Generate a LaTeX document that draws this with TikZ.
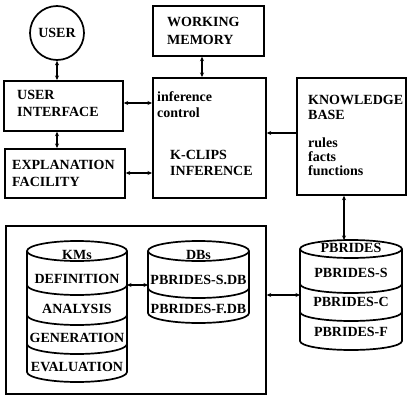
\documentclass[tikz,border=0pt]{standalone}
\usepackage{fontspec}
\setmainfont{Liberation Serif}
\usetikzlibrary{arrows.meta}
\begin{document}
\begin{tikzpicture}[x=1pt,y=1pt,
  box/.style={draw, line width=1.7pt, rectangle, inner sep=0pt, anchor=north west},
  txt/.style={inner sep=0pt, font=\fontsize{14}{16}\selectfont\bfseries, text height=9.5pt, text depth=0pt},
  lt/.style={txt, anchor=west},
  ct/.style={txt, anchor=center},
  cyl/.style={line width=1.7pt},
  tip/.tip={Stealth[length=4.5pt,width=4pt]},
  conn/.style={line width=1.1pt, tip-tip},
  conn1/.style={line width=1.1pt, -tip}]
\useasboundingbox (0,0) rectangle (407,400);

% boxes
\node[draw, circle, line width=1.7pt, minimum size=54pt, inner sep=0pt, font=\fontsize{14}{16}\selectfont\bfseries] (user) at (57,367) {USER};
\node[box, minimum width=111pt, minimum height=50pt] (wm) at (152,395) {};
\node[box, minimum width=119pt, minimum height=50pt] (ui) at (3,320) {};
\node[box, minimum width=113pt, minimum height=120pt] (inf) at (152,323) {};
\node[box, minimum width=109pt, minimum height=117pt] (kb) at (296,323) {};
\node[box, minimum width=120pt, minimum height=49pt] (ex) at (4,252) {};
\node[box, minimum width=260pt, minimum height=168pt] (big) at (5,175) {};

% box texts
\node[lt] (wm1) at (167,378) {WORKING};
\node[lt] (wm2) at (167,360) {MEMORY};
\node[lt] (ui1) at (17,305) {USER};
\node[lt] (ui2) at (17,288) {INTERFACE};
\node[lt] (ex1) at (12,235) {EXPLANATION};
\node[lt] (ex2) at (12,218) {FACILITY};
\node[lt] (in1) at (157,303) {inference};
\node[lt] (in2) at (157,287) {control};
\node[lt] (in3) at (170,245) {K-CLIPS};
\node[lt] (in4) at (170,229) {INFERENCE};
\node[lt] (kb1) at (308,300) {KNOWLEDGE};
\node[lt] (kb2) at (308,285) {BASE};
\node[lt] (kb3) at (308,257) {rules};
\node[lt] (kb4) at (308,243) {facts};
\node[lt] (kb5) at (308,229) {functions};

% KMs cylinder
\draw[cyl] (27,149) -- (27,28) arc[start angle=180,end angle=360,x radius=50,y radius=10] -- (127,149);
\draw[cyl] (77,149) ellipse[x radius=50,y radius=10];
\draw[cyl] (27,115) arc[start angle=180,end angle=360,x radius=50,y radius=10];
\draw[cyl] (27,85) arc[start angle=180,end angle=360,x radius=50,y radius=10];
\draw[cyl] (27,56) arc[start angle=180,end angle=360,x radius=50,y radius=10];
\node[ct] (km0) at (77,145) {KMs};
\node[ct] (km1) at (77,121) {DEFINITION};
\node[ct] (km2) at (77,91) {ANALYSIS};
\node[ct] (km3) at (77,62) {GENERATION};
\node[ct] (km4) at (77,33) {EVALUATION};
\coordinate (kmr) at (127,115);

% DBs cylinder
\draw[cyl] (148,149) -- (148,87) arc[start angle=180,end angle=360,x radius=50.5,y radius=10] -- (249,149);
\draw[cyl] (198.5,149) ellipse[x radius=50.5,y radius=10];
\draw[cyl] (148,112) arc[start angle=180,end angle=360,x radius=50.5,y radius=10];
\node[ct] (db0) at (198.5,145) {DBs};
\begin{scope}
\clip (148,149) rectangle (249,80);
\node[ct] (db1) at (198.5,120) {PBRIDES-S.DB};
\node[ct] (db2) at (198.5,91) {PBRIDES-F.DB};
\end{scope}
\coordinate (dbl) at (148,115);

% PBRIDES cylinder
\draw[cyl] (300,151) -- (300,59) arc[start angle=180,end angle=360,x radius=51,y radius=9] -- (402,151);
\draw[cyl] (351,151) ellipse[x radius=51,y radius=9];
\draw[cyl] (300,116) arc[start angle=180,end angle=360,x radius=51,y radius=9];
\draw[cyl] (300,88) arc[start angle=180,end angle=360,x radius=51,y radius=9];
\node[ct] (pb0) at (351,152) {PBRIDES};
\node[ct] (pb1) at (351,127) {PBRIDES-S};
\node[ct] (pb2) at (351,98) {PBRIDES-C};
\node[ct] (pb3) at (351,68) {PBRIDES-F};
\coordinate (pbtop) at (344,160);
\coordinate (pbl) at (300,105);

% helper coordinates
\coordinate (ya) at (0,297);
\coordinate (yb) at (0,227);
\coordinate (yc) at (0,267);
\coordinate (yd) at (0,105);
\coordinate (xw) at (202,0);

% connectors
\draw[conn] (user.south) -- (user.south |- ui.north);
\draw[conn] (ui.south -| user.south) -- (ex.north -| user.south);
\draw[conn] (ui.east |- ya) -- (inf.west |- ya);
\draw[conn] (ex.east |- yb) -- (inf.west |- yb);
\draw[conn] (wm.south -| xw) -- (inf.north -| xw);
\draw[conn1] (kb.west |- yc) -- (inf.east |- yc);
\draw[conn] (kb.south -| pbtop) -- (pbtop);
\draw[conn] (big.east |- yd) -- (pbl);
\draw[conn] (kmr) -- (dbl);
\end{tikzpicture}
\end{document}
